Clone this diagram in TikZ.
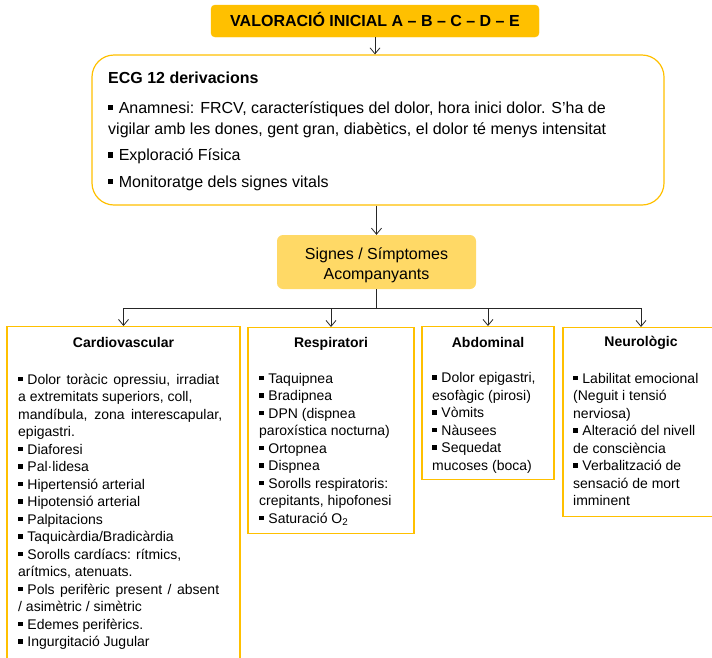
\documentclass[tikz,border=0pt]{standalone}
\usepackage{fontspec}
\setmainfont{Liberation Sans}
\usetikzlibrary{arrows.meta}
\definecolor{gold}{HTML}{FFC000}
\definecolor{lightgold}{HTML}{FFD966}
\definecolor{wire}{HTML}{262626}
% small square bullet
\newcommand\sqbul{\rule[0.2em]{0.32em}{0.32em}\hspace{0.34em}}
% a line spread out to a given width
\newcommand\spreadline[2]{\makebox[#1][s]{#2}}

\begin{document}
\begin{tikzpicture}[x=1pt,y=-1pt,
  panel/.style={draw=gold, line width=1.2pt, fill=white, inner sep=0pt},
  wirestyle/.style={draw=wire, line width=0.8pt},
  arr/.style={wirestyle, -{Straight Barb[length=6pt,width=10pt]}},
  % multi-line text blocks are placed by the baseline of their last line
  body/.style={anchor=base west, align=left, inner sep=0pt, font=\fontsize{14}{17.5}\selectfont},
  head/.style={anchor=base, inner sep=0pt, font=\bfseries\fontsize{14}{17}\selectfont},
]
\useasboundingbox (0,0) rectangle (712,657);
\clip (0,0) rectangle (712,657);

% top banner
\node[draw=gold, fill=gold, rounded corners=4pt, minimum width=328pt, minimum height=32pt,
      inner sep=0pt, text height=11.5pt, text depth=0pt,
      font=\bfseries\fontsize{16}{19}\selectfont] (init) at (375,21)
      {VALORACIÓ INICIAL A – B – C – D – E};

% assessment panel
\node[panel, rounded corners=22pt, minimum width=572pt, minimum height=150pt] (ecg) at (378,130) {};
\node[anchor=base west, align=left, inner sep=0pt, font=\fontsize{16}{21}\selectfont] (ecgtext) at (108,187.3)
  {\textbf{ECG 12 derivacions}\\[8.7pt]
   \sqbul Anamnesi: FRCV, característiques del dolor, hora inici dolor. S’ha de\\
   vigilar amb les dones, gent gran, diabètics, el dolor té menys intensitat\\[5.7pt]
   \sqbul Exploració Física\\[5.6pt]
   \sqbul Monitoratge dels signes vitals};

% symptoms hub
\node[fill=lightgold, rounded corners=6pt, minimum width=199pt, minimum height=54pt, inner sep=0pt] (signes) at (376.5,262) {};
\node[anchor=base, align=center, inner sep=0pt, font=\fontsize{16}{20}\selectfont] (signestext) at (376.5,279)
      {Signes / Símptomes\\Acompanyants};

% category panels
\node[panel, minimum width=233pt, minimum height=400pt, anchor=north] (cardio) at (123.5,326) {};
\node[panel, minimum width=166pt, minimum height=206pt, anchor=north] (resp) at (331,327) {};
\node[panel, minimum width=132pt, minimum height=153pt, anchor=north] (abd) at (488,326) {};
\node[panel, minimum width=156pt, minimum height=189pt, anchor=north] (neuro) at (641,327) {};

% connectors
\draw[arr] (init.south) -- (init.south |- ecg.north);
\draw[arr] (signes.north |- ecg.south) -- (signes.north);
\coordinate (bus) at (376.5,308);
\draw[wirestyle, line width=1.4pt] (signes.south) -- (bus);
\draw[wirestyle] (bus -| cardio.north) -- (bus -| neuro.north);
\foreach \b in {cardio,resp,abd,neuro}
  \draw[arr] (bus -| \b.north) -- (\b.north);

% panel headings
\node[head] (cardiohead) at (123.5,347.5) {Cardiovascular};
\node[head] (resphead) at (331,347.5) {Respiratori};
\node[head] (abdhead) at (488,347) {Abdominal};
\node[head] (neurohead) at (641,346) {Neurològic};

% panel contents
\node[body] (cardiobody) at (18,646.5)
  {\spreadline{201pt}{\sqbul Dolor toràcic opressiu, irradiat}\\
   a extremitats superiors, coll,\\
   \spreadline{204pt}{mandíbula, zona interescapular,}\\
   epigastri.\\
   \sqbul Diaforesi\\
   \sqbul Pal·lidesa\\
   \sqbul Hipertensió arterial\\
   \sqbul Hipotensió arterial\\
   \sqbul Palpitacions\\
   \sqbul Taquicàrdia/Bradicàrdia\\
   \sqbul Sorolls cardíacs: rítmics,\\
   arítmics, atenuats.\\
   \spreadline{201pt}{\sqbul Pols perifèric present / absent}\\
   / asimètric / simètric\\
   \sqbul Edemes perifèrics.\\
   \sqbul Ingurgitació Jugular};

\node[body] (respbody) at (259,523)
  {\sqbul Taquipnea\\
   \sqbul Bradipnea\\
   \sqbul DPN (dispnea\\
   paroxística nocturna)\\
   \sqbul Ortopnea\\
   \sqbul Dispnea\\
   \sqbul Sorolls respiratoris:\\
   crepitants, hipofonesi\\
   \sqbul Saturació O\textsubscript{2}};

\node[body] (abdbody) at (432,470)
  {\sqbul Dolor epigastri,\\
   esofàgic (pirosi)\\
   \sqbul Vòmits\\
   \sqbul Nàusees\\
   \sqbul Sequedat\\
   mucoses (boca)};

\node[body] (neurobody) at (573,505.5)
  {\sqbul Labilitat emocional\\
   (Neguit i tensió\\
   nerviosa)\\
   \sqbul Alteració del nivell\\
   de consciència\\
   \sqbul Verbalització de\\
   sensació de mort\\
   imminent};
\end{tikzpicture}
\end{document}
